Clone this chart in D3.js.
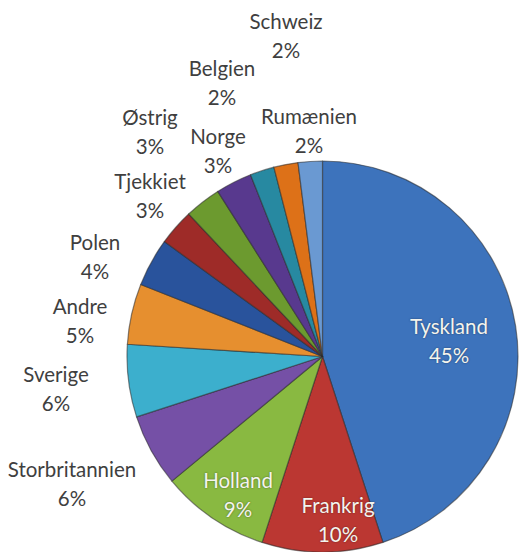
<!DOCTYPE html>
<html><head><meta charset="utf-8">
<script src="https://cdn.jsdelivr.net/npm/d3@7"></script>
<style>body{margin:0;background:#fff}svg{display:block}</style>
</head><body>
<script>
const categories = ["Tyskland","Frankrig","Holland","Storbritannien","Sverige","Andre","Polen","Tjekkiet","Østrig","Norge","Belgien","Rumænien","Schweiz"];
const values = [45,10,9,6,6,5,4,3,3,3,2,2,2];
const colors = ["#437ecd","#cc3c37","#96ca47","#8058b5","#42bfe0","#fb9c33","#2d5bab","#ad2f2c","#76a833","#603e9b","#2b96b0","#f27c1a","#74a7e6"];
// label layout (centre of two-line label), inside flag
const labelLayout = {
  "Tyskland":[449,341,true],"Frankrig":[338,520,true],"Holland":[238,495,true],
  "Storbritannien":[72,484,false],"Sverige":[56,389,false],"Andre":[80,321,false],
  "Polen":[95,257,false],"Tjekkiet":[150,196,false],"Østrig":[150,132,false],
  "Norge":[218,151,false],"Belgien":[222,83,false],"Rumænien":[309,131,false],"Schweiz":[286,36,false]
};
const W=519,H=552,cx=322.5,cy=356.5,R=195.5;
const svg=d3.select("body").append("svg").attr("width",W).attr("height",H);
const defs=svg.append("defs");
const data=categories.map((c,i)=>({name:c,value:values[i],color:colors[i]}));
const pie=d3.pie().value(d=>d.value).sort(null);
const arcs=pie(data);
arcs.forEach((a,i)=>{
  const g=defs.append("radialGradient").attr("id","g"+i).attr("gradientUnits","userSpaceOnUse")
    .attr("cx",cx).attr("cy",cy).attr("r",R);
  const c=d3.color(a.data.color);
  g.append("stop").attr("offset","0%").attr("stop-color",c.darker(0.05));
  g.append("stop").attr("offset","92%").attr("stop-color",c);
  g.append("stop").attr("offset","97%").attr("stop-color",c.brighter(0.3));
  g.append("stop").attr("offset","100%").attr("stop-color",c.darker(0.25));
});
const arc=d3.arc().innerRadius(0).outerRadius(R);
const gp=svg.append("g").attr("transform",`translate(${cx},${cy})`);
gp.selectAll("path").data(arcs).join("path")
  .attr("d",arc).attr("fill",(d,i)=>`url(#g${i})`)
  .attr("stroke","#2a2a2a").attr("stroke-opacity",0.55).attr("stroke-width",1.2).attr("stroke-linejoin","round");
const gl=svg.append("g").attr("font-family","Lato, 'Open Sans', sans-serif").attr("font-size",20.5).attr("text-anchor","middle");
arcs.forEach(a=>{
  const [x,y,inside]=labelLayout[a.data.name];
  const t=gl.append("text").attr("x",x).attr("y",y).attr("fill",inside?"#f4f4ee":"#3f3f3f");
  if(inside) t.style("text-shadow","0 0 2px rgba(0,0,0,0.45)");
  t.append("tspan").attr("x",x).attr("dy",-7).text(a.data.name);
  t.append("tspan").attr("x",x).attr("dy",29).text(a.data.value+"%");
});
</script>
</body></html>
